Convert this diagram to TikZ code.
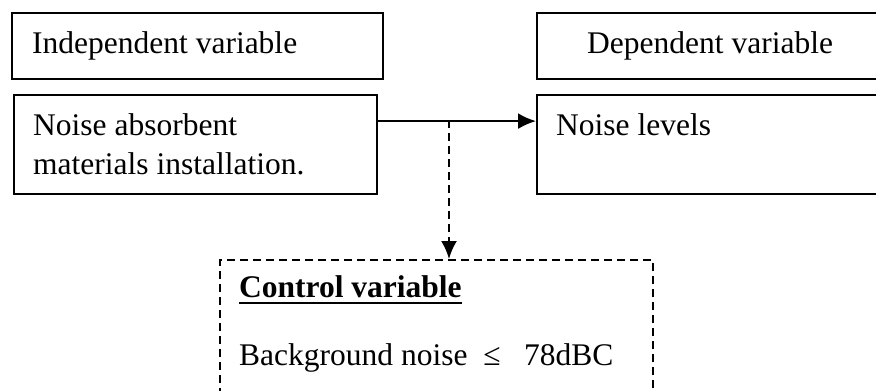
\documentclass[tikz,border=0pt]{standalone}
\usepackage{fontspec}
\setmainfont{Liberation Serif}
\usetikzlibrary{arrows.meta}
\begin{document}
\begin{tikzpicture}[x=1pt,y=-1pt,
  every node/.style={font=\fontsize{31.5}{34}\selectfont, inner sep=0pt},
  box/.style={draw, line width=2.2pt, anchor=north west},
  lbl/.style={anchor=base west},
  arr/.style={line width=2.2pt, -{Latex[length=18pt,width=16pt]}},
  darr/.style={line width=2.2pt, dash pattern=on 8pt off 5pt, -{Latex[length=18pt,width=16pt]}}]
\useasboundingbox (0,0) rectangle (876,391);
\begin{scope}
\clip (0,0) rectangle (876,391);
\node[box, minimum width=371pt, minimum height=66pt] (iv) at (11,12) {};
\node[box, minimum width=363pt, minimum height=99pt] (na) at (13,94) {};
\node[box, minimum width=352pt, minimum height=66pt] (dv) at (536,12) {};
\node[box, minimum width=352pt, minimum height=99pt] (nl) at (536,94) {};
\node[box, dash pattern=on 8pt off 5pt, minimum width=433pt, minimum height=150pt] (cv) at (219,259) {};
\end{scope}
\node[lbl] (ivt) at (32,53) {Independent variable};
\node[lbl] (dvt) at (587,53) {Dependent variable};
\node[lbl] (nat1) at (33,135) {Noise absorbent};
\node[lbl] (nat2) at (33,174) {materials installation.};
\node[lbl] (nlt) at (556,135) {Noise levels};
\node[lbl] (cvt) at (239,297) {\textbf{Control variable}};
\node[lbl] (bgt) at (239,365) {Background noise\ \ ≤\ \ \ 78dBC};
\draw[line width=2.8pt] ([yshift=-6pt]cvt.base west) -- ([yshift=-6pt]cvt.base east);
\draw[arr] ([yshift=23.5pt]na.east) -- ([yshift=23.5pt]nl.west);
\coordinate (j) at (449,120);
\draw[darr] (j) -- (j |- cv.north);
\end{tikzpicture}
\end{document}
